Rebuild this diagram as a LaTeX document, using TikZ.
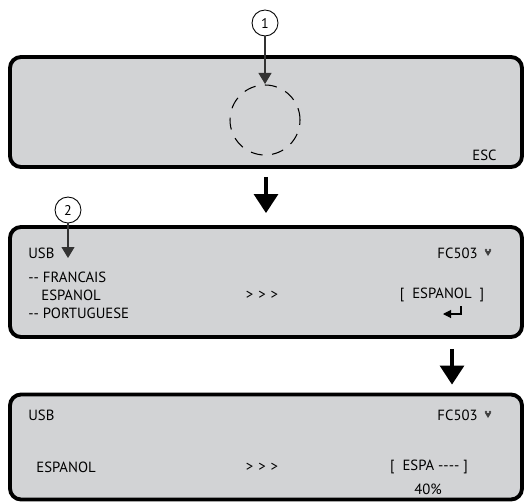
\documentclass[tikz,border=0pt]{standalone}
\usepackage{fontspec}
\setmainfont{PT Sans}
\usetikzlibrary{arrows.meta}
\definecolor{lcdgray}{RGB}{210,211,213}
\tikzset{
  panel/.style={draw=black, line width=2.2pt, fill=lcdgray, rounded corners=2.2mm,
    minimum width=102.4mm, inner sep=0pt},
  callout/.style={circle, draw, line width=0.5pt, fill=white, minimum size=5.2mm,
    inner sep=0pt, font=\fontsize{8}{9}\selectfont},
  pointer/.style={draw=black!80, line width=0.6pt, -{Triangle[width=2.6mm,length=2.2mm]}},
  bigarrow/.style={line width=1.8pt, -{Triangle[width=4.8mm,length=3.8mm]}},
  lcd/.style={font=\fontsize{8.4}{9}\selectfont, inner sep=0pt}
}
\begin{document}
\begin{tikzpicture}[x=0.2mm,y=-0.2mm]
    \useasboundingbox (0,0) rectangle (525,503);
    % first screen
    \node [panel, minimum height=22mm] (p1) at (266,112) {};
    \draw [line width=0.6pt, dash pattern=on 2.4mm off 1.9mm] (265,120) circle (7mm);
    \node [lcd, anchor=east] (esc) at (497,155) {ESC};
    \node [callout] (c1) at (265,23) {1};
    \coordinate (t1) at (265,84);
    \draw [pointer] (c1) -- (t1);
    % second screen
    \node [panel, minimum height=22mm] (p2) at (266,282) {};
    \draw [bigarrow] ([yshift=-1.6mm]p1.south) -- ([yshift=2.4mm]p2.north);
    \node [lcd, anchor=west] (usb2) at (28,253) {USB};
    \node [lcd, anchor=east] (fc2) at (478,253) {FC503};
    \node [lcd, anchor=west] (fr) at (28,277) {-{}- FRANCAIS};
    \node [lcd, anchor=west] (es) at (41,295) {ESPANOL};
    \node [lcd, anchor=west] (pt) at (28,313) {-{}- PORTUGUESE};
    \node [lcd] (sel2) at (262,295) {>\,\,>\,\,>};
    \node [lcd] (res2) at (442,295) {[ \ ESPANOL \ ]};
    \draw [line width=0.6pt, -{Triangle[width=1.6mm,length=1.6mm]}] (461,306) -- (461,314) -- (443,314);
    \fill [black!75] (486,250) circle (1.4) (490,250) circle (1.4) (485,251) -- (491,251) -- (488,256) -- cycle;
    \node [callout] (c2) at (68,210) {2};
    \coordinate (t2) at (68,258);
    \draw [pointer] (c2) -- (t2);
    % third screen
    \node [panel, minimum height=21mm] (p3) at (266,447) {};
    \draw [bigarrow] ([xshift=37.2mm,yshift=-2mm]p2.south) -- ([xshift=37.2mm,yshift=1.6mm]p3.north);
    \node [lcd, anchor=west] (usb3) at (28,415) {USB};
    \node [lcd, anchor=east] (fc3) at (478,415) {FC503};
    \fill [black!75] (486,412) circle (1.4) (490,412) circle (1.4) (485,413) -- (491,413) -- (488,418) -- cycle;
    \node [lcd, anchor=west] (es3) at (36,467) {ESPANOL};
    \node [lcd] (sel3) at (262,467) {>\,\,>\,\,>};
    \node [lcd] (res3) at (429,467) {[ \ ESPA -{}-{}-{}- ]};
    \node [lcd] (pct) at (428,489) {40\%};
\end{tikzpicture}
\end{document}
